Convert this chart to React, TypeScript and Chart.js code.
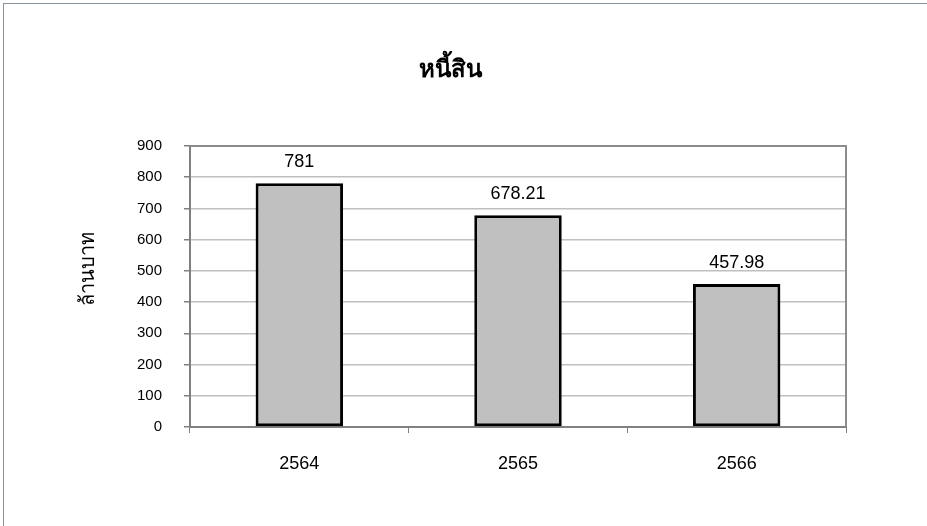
import React, { useEffect, useRef } from "react";
import { Chart, registerables } from "chart.js";

Chart.register(...registerables);

const categories = ["2564", "2565", "2566"];
const debtValues = [781, 678.21, 457.98];
const valueLabels = ["781", "678.21", "457.98"];
const chartTitle = "หนี้สิน";
const yTitle = "ล้านบาท";

const FONT = "'Liberation Sans', Arial, sans-serif";

export default function App() {
  const ref = useRef<HTMLCanvasElement>(null);

  useEffect(() => {
    if (!ref.current) return;
    const frame = {
      id: "frame",
      afterDraw(chart: any) {
        const { ctx, chartArea } = chart;
        ctx.save();
        ctx.strokeStyle = "#8c8c8c";
        ctx.lineWidth = 2;
        ctx.beginPath();
        ctx.moveTo(chartArea.left, chartArea.top);
        ctx.lineTo(chartArea.right, chartArea.top);
        ctx.lineTo(chartArea.right, chartArea.bottom);
        ctx.stroke();
        // chart title
        ctx.fillStyle = "#000";
        ctx.textAlign = "center";
        ctx.textBaseline = "middle";
        ctx.font = `bold 24px ${FONT}`;
        ctx.fillText(chartTitle, 450, 70);
        // y axis title
        ctx.translate(88, 269);
        ctx.rotate(-Math.PI / 2);
        ctx.font = `20px ${FONT}`;
        ctx.fillText(yTitle, 0, 0);
        ctx.restore();
      },
    };
    const labels = {
      id: "valueLabels",
      afterDatasetsDraw(chart: any) {
        const { ctx } = chart;
        const meta = chart.getDatasetMeta(0);
        ctx.save();
        ctx.fillStyle = "#000";
        ctx.font = `18px ${FONT}`;
        ctx.textAlign = "center";
        ctx.textBaseline = "middle";
        meta.data.forEach((bar: any, i: number) => {
          const { x, y } = bar.getProps(["x", "y"], true);
          ctx.fillText(valueLabels[i], x, y - 21);
        });
        ctx.restore();
      },
    };
    const chart = new Chart(ref.current, {
      type: "bar",
      data: {
        labels: categories,
        datasets: [
          {
            data: debtValues,
            backgroundColor: "#c0c0c0",
            borderColor: "#000000",
            borderWidth: 3,
            borderSkipped: false,
            categoryPercentage: 1,
            barPercentage: 0.4,
          },
        ],
      },
      options: {
        animation: false,
        responsive: true,
        maintainAspectRatio: false,
        layout: { padding: { top: 146, left: 70, right: 81, bottom: 39 } },
        plugins: {
          legend: { display: false },
          tooltip: { enabled: false },
          title: { display: false },
        },
        scales: {
          x: {
            grid: {
              drawOnChartArea: false,
              drawTicks: true,
              tickLength: 6,
              color: "#808080",
              offset: true,
            },
            border: { color: "#808080", width: 2 },
            ticks: {
              color: "#000",
              font: { size: 18, family: FONT },
              padding: 20,
            },
            afterFit(scale: any) {
              scale.height = 60;
            },
          },
          y: {
            min: 0,
            max: 900,
            ticks: {
              stepSize: 100,
              color: "#000",
              font: { size: 15, family: FONT },
              padding: 22,
            },
            grid: {
              color: "#c0c0c0",
              lineWidth: 1.5,
              tickLength: 6,
              tickColor: "#808080",
            },
            border: { color: "#808080", width: 2 },
            afterFit(scale: any) {
              scale.width = 120;
            },
          },
        },
      },
      plugins: [frame, labels],
    });
    return () => chart.destroy();
  }, []);

  return (
    <div style={{ position: "fixed", left: 0, top: 0, width: 927, height: 526, background: "#fff" }}>
      <div
        style={{
          position: "absolute",
          left: 3,
          top: 3,
          right: 0,
          bottom: 0,
          borderTop: "1px solid #8a949c",
          borderLeft: "1px solid #8a949c",
          pointerEvents: "none",
        }}
      />
      <canvas ref={ref} style={{ position: "absolute", left: 0, top: 0 }} />
    </div>
  );
}
